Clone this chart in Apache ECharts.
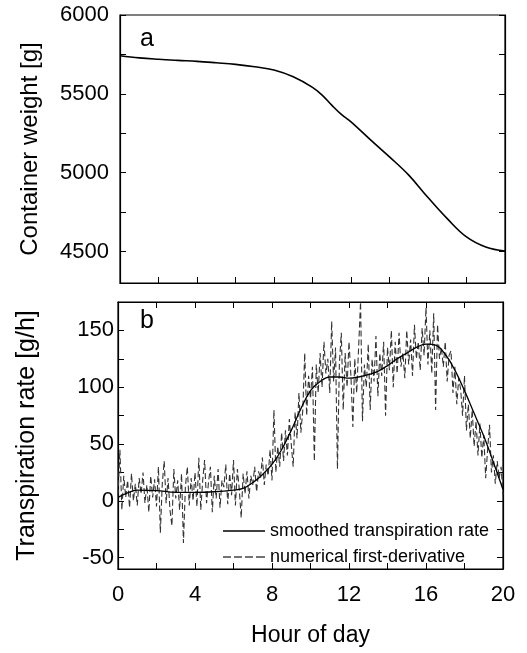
<!DOCTYPE html>
<html>
<head>
<meta charset="utf-8">
<script src="https://cdn.jsdelivr.net/npm/echarts@6/dist/echarts.min.js"></script>
<style>html,body{margin:0;padding:0;background:#fff}#c{width:527px;height:653px}</style>
</head>
<body>
<div id="c"></div>
<script>
// Panel a: container weight
const weightHours = [0,1,2,3,4,5,6,7,8,9,10,10.5,11,11.5,12,13,14,15,16,17,18,19,20];
const weightValues = [5742,5728,5719,5712,5706,5697,5687,5672,5651,5608,5541,5492,5428,5369,5322,5210,5100,4984,4842,4708,4592,4528,4502];

// Panel b: smoothed transpiration rate
const smoothHours = [0,0.5,1,2,3,4,5,6,6.5,7,7.5,8,8.5,9,9.5,10,10.5,11,11.5,12,12.5,13,13.5,14,14.5,15,15.5,16,16.5,17,17.5,18,18.5,19,19.5,20];
const smoothValues = [3,7,9.4,9,7.5,7.5,8,9.5,11,16,23,32,45,62,81,97,105,109,109,108,109,111,114,119,125,130,135,138,137,129,115,97,77,57,34,10];

// Panel b: numerical first-derivative, every 0.1 h from 0 to 20
const derivStep = 0.1;
const derivValues = [
  5,45,-8,22,3,18,-6,24,0,15,
  -4,20,6,25,-2,14,-10,22,3,19,
  -5,30,-28,15,35,-2,20,-8,-22,28,
  2,18,-8,24,-37,12,30,-4,20,0,
  25,-5,38,-8,18,36,-2,16,30,-10,
  22,2,28,-6,18,12,32,-3,24,5,
  36,-4,28,10,-15,24,6,26,2,22,
  14,30,8,26,20,38,14,32,22,45,
  18,80,25,48,30,60,35,62,40,72,
  50,30,78,55,95,60,80,130,75,110,
  90,118,35,120,95,130,100,140,112,125,
  95,158,105,135,28,120,148,80,130,100,
  140,110,65,125,95,135,175,70,120,100,
  138,80,125,105,145,92,130,110,140,75,
  135,115,150,100,140,112,148,118,130,108,
  150,120,142,110,155,125,140,115,152,128,
  170,120,150,112,165,80,155,125,135,118,
  140,105,128,132,95,118,85,108,98,75,
  110,62,85,55,80,48,70,40,68,38,
  58,20,45,67,25,40,15,35,20,30,
  5
];

// Tick labels
const xLabelValues = [0,4,8,12,16,20];
const weightLabelValues = [4500,5000,5500,6000];
const weightTickValues = [4500,4750,5000,5250,5500,5750,6000];
const rateLabelValues = [-50,0,50,100,150];
const rateTickValues = [-50,-25,0,25,50,75,100,125,150];

const panelNames = ['a','b'];
const seriesNames = ['smoothed transpiration rate','numerical first-derivative'];

const FONT = 'Liberation Sans, Arial, sans-serif';
const AX = '#000';

function zip(xs, ys){ return xs.map((x,i)=>[x, ys[i]]); }
const derivData = derivValues.map((v,i)=>[+(i*derivStep).toFixed(1), v]);
const plain = v => String(v);

const chart = echarts.init(document.getElementById('c'), null, {renderer:'canvas'});

const tickStyle = {show:true, inside:true, length:6, lineStyle:{color:AX, width:1}};
const lineStyle = {show:true, onZero:false, lineStyle:{color:AX, width:1.2}};

const solidIcon = 'path://M0,0H42V1.3H0Z';
const dashedIcon = 'path://M0,0H8V1.3H0Z M11,0H19V1.3H11Z M22,0H30V1.3H22Z M33,0H41V1.3H33Z M41,0H42V1.3H41Z';

chart.setOption({
  animation:false,
  backgroundColor:'#fff',
  textStyle:{fontFamily:FONT, color:'#000'},
  title:[
    {text:panelNames[0], left:135, top:22, textStyle:{fontFamily:FONT, fontSize:25, fontWeight:'normal', color:'#000'}},
    {text:panelNames[1], left:135, top:304, textStyle:{fontFamily:FONT, fontSize:25, fontWeight:'normal', color:'#000'}}
  ],
  grid:[
    {left:120, top:15, width:385, height:268, show:true, borderColor:AX, borderWidth:1.2},
    {left:118, top:302, width:385, height:267, show:true, borderColor:AX, borderWidth:1.2}
  ],
  legend:{
    orient:'vertical', left:218, top:517, itemGap:8, itemWidth:42, itemHeight:19,
    textStyle:{fontFamily:FONT, fontSize:18, color:'#000'},
    data:[{name:seriesNames[0], icon:solidIcon}, {name:seriesNames[1], icon:dashedIcon}]
  },
  xAxis:[
    {gridIndex:0, type:'value', position:'bottom', min:0, max:20, interval:2,
     axisLine:lineStyle, axisTick:tickStyle, axisLabel:{show:false}, splitLine:{show:false}},
    {gridIndex:1, type:'value', position:'bottom', min:0, max:20, interval:2,
     axisLine:lineStyle, axisTick:tickStyle,
     axisLabel:{show:true, customValues:xLabelValues, formatter:plain, margin:15, fontSize:22, color:'#000', fontFamily:FONT},
     splitLine:{show:false},
     name:'Hour of day', nameLocation:'middle', nameGap:55,
     nameTextStyle:{fontSize:23, color:'#000', fontFamily:FONT}},
    {gridIndex:1, type:'value', position:'top', min:0, max:20, interval:2,
     axisLine:lineStyle, axisTick:tickStyle, axisLabel:{show:false}, splitLine:{show:false}}
  ],
  yAxis:[
    {gridIndex:0, type:'value', position:'left', min:4300, max:6000,
     axisLine:lineStyle, axisTick:Object.assign({}, tickStyle, {customValues:weightTickValues}),
     axisLabel:{show:true, customValues:weightLabelValues, formatter:plain, margin:11, fontSize:22, color:'#000', fontFamily:FONT},
     splitLine:{show:false},
     name:'Container weight [g]', nameLocation:'middle', nameGap:78,
     nameTextStyle:{fontSize:24, color:'#000', fontFamily:FONT}},
    {gridIndex:0, type:'value', position:'right', min:4300, max:6000,
     axisLine:lineStyle, axisTick:Object.assign({}, tickStyle, {customValues:weightTickValues}),
     axisLabel:{show:false}, splitLine:{show:false}},
    {gridIndex:1, type:'value', position:'left', min:-60, max:175,
     axisLine:lineStyle, axisTick:Object.assign({}, tickStyle, {customValues:rateTickValues}),
     axisLabel:{show:true, customValues:rateLabelValues, formatter:plain, margin:4, fontSize:22, color:'#000', fontFamily:FONT},
     splitLine:{show:false},
     name:'Transpiration rate [g/h]', nameLocation:'middle', nameGap:78,
     nameTextStyle:{fontSize:25, color:'#000', fontFamily:FONT}},
    {gridIndex:1, type:'value', position:'right', min:-60, max:175,
     axisLine:lineStyle, axisTick:Object.assign({}, tickStyle, {customValues:rateTickValues}),
     axisLabel:{show:false}, splitLine:{show:false}}
  ],
  series:[
    {name:'weight', type:'line', xAxisIndex:0, yAxisIndex:0, data:zip(weightHours, weightValues),
     smooth:0.4, symbol:'none', lineStyle:{color:'#000', width:1.6}},
    {name:seriesNames[1], type:'line', xAxisIndex:1, yAxisIndex:2, data:derivData,
     symbol:'none', lineStyle:{color:'#333', width:1.1, type:[6,3]}, itemStyle:{color:'#444'}},
    {name:seriesNames[0], type:'line', xAxisIndex:1, yAxisIndex:2, data:zip(smoothHours, smoothValues),
     smooth:0.4, symbol:'none', lineStyle:{color:'#000', width:1.3}, itemStyle:{color:'#000'}}
  ]
});
</script>
</body>
</html>
